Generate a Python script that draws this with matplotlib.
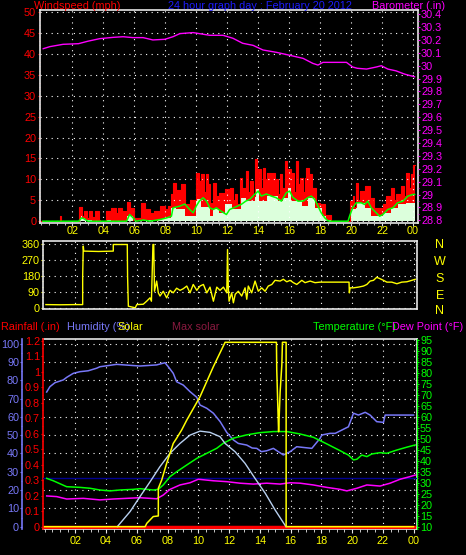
import numpy as np
import matplotlib.pyplot as plt
from matplotlib.ticker import MultipleLocator, FixedLocator

plt.rcParams['font.family'] = ['Liberation Sans', 'DejaVu Sans']
plt.rcParams['font.size'] = 7.8

# ---------------- data ----------------
hour_ticks = [2, 4, 6, 8, 10, 12, 14, 16, 18, 20, 22, 24]
hour_labels = ['02', '04', '06', '08', '10', '12', '14', '16', '18', '20', '22', '00']

# barometer (inHg)
baro_h = [0.12, 0.55, 1.4, 2.4, 3.0, 3.77, 4.63, 5.28, 5.9, 6.57, 7.2, 7.97, 8.5, 8.94, 9.8,
          10.2, 10.87, 11.73, 12.37, 13.0, 13.67, 14.31, 15.17, 16.03, 16.9, 17.53, 17.86,
          18.18, 19.7, 20.1, 20.4, 21.0, 21.63, 21.95, 22.37, 22.9, 23.45, 24.1]
baro_v = [30.132, 30.148, 30.166, 30.171, 30.19, 30.21, 30.22, 30.225, 30.218, 30.218, 30.2,
          30.205, 30.225, 30.249, 30.257, 30.249, 30.236, 30.236, 30.213, 30.174, 30.158,
          30.122, 30.104, 30.081, 30.057, 30.018, 30.005, 30.026, 30.026, 29.99, 29.98,
          29.974, 29.99, 30.0, 29.974, 29.96, 29.935, 29.914]

# gust (mph), step values starting at each hour
gust_h = [0.0, 1.2, 1.3, 2.42, 2.6, 2.75, 2.95, 3.05, 3.3, 3.45, 3.7, 3.8, 4.16, 4.5, 4.8,
          4.95, 5.2, 5.5, 5.7, 6.0, 6.46, 6.68, 7.0, 7.3, 7.65, 8.0, 8.2, 8.4, 8.5, 8.7, 9.0,
          9.25, 9.6, 10.0, 10.2, 10.3, 10.5, 10.6, 10.75, 10.9, 11.1, 11.3, 11.5, 11.85,
          12.2, 12.35, 12.5, 12.65, 12.8, 12.95, 13.05, 13.2, 13.35, 13.45, 13.65, 13.77,
          13.9, 14.0, 14.15, 14.3, 14.45, 14.6, 14.8, 14.9, 15.06, 15.25, 15.4, 15.55, 15.7,
          15.85, 15.92, 16.14, 16.3, 16.46, 16.6, 16.7, 16.9, 17.0, 17.1, 17.3, 17.5, 17.75,
          17.97, 18.3, 18.72, 19.9, 20.1, 20.2, 20.33, 20.45, 20.55, 20.87, 21.0, 21.1, 21.2,
          21.5, 22.05, 22.27, 22.6, 22.75, 22.9, 23.24, 23.4, 23.56, 23.75, 23.88, 24.0, 24.1]
gust_v = [0, 1.3, 0, 3.5, 1.2, 2.4, 0.8, 2.4, 1.0, 2.4, 0.4, 0, 2.4, 3.2, 2.0,
          3.2, 2.4, 4.5, 3.2, 0.8, 4.4, 2.8, 2.0, 2.4, 3.6, 2.8, 3.6, 6.5, 9.2, 7.5, 9.0,
          4.0, 5.0, 11.6, 9.5, 11.4, 7.0, 11.4, 9.0, 4.4, 9.2, 6.0, 6.8, 7.6,
          8.0, 5.0, 6.4, 4.0, 10.4, 6.0, 8.0, 12.0, 7.0, 9.6, 6.0, 14.8,
          9.0, 12.4, 8.0, 12.8, 10.0, 11.6, 7.5, 11.6, 10.0, 6.5, 11.2, 8.0, 14.4,
          9.0, 12.4, 11.6, 7.0, 14.4, 9.0, 10.4, 7.0, 10.4, 12.8, 11.2, 8.0, 4.4,
          4.0, 1.6, 0, 4.8, 6.0, 3.5, 9.2, 5.0, 7.2, 8.4, 5.5, 8.4, 5.6,
          3.2, 4.0, 6.0, 8.0, 5.0, 6.4, 8.4, 6.0, 11.6, 8.0, 11.2, 13.5, 13.5]

# wind speed (mph), step values
wind_h = [0.0, 2.42, 2.55, 2.65, 2.8, 3.3, 4.2, 4.5, 5.5, 5.9, 6.6, 7.2, 7.5, 8.0, 8.4, 8.7,
          9.25, 10.0, 10.3, 10.9, 11.1, 11.5, 11.84, 12.3, 12.9, 13.2, 13.8, 14.05, 14.6,
          15.3, 15.6, 15.9, 16.1, 16.8, 17.2, 17.65, 18.1, 18.4, 18.7, 19.9, 20.33, 20.87,
          21.3, 22.05, 22.6, 23.0, 23.56, 24.1]
wind_v = [0, 0.8, 1.3, 0.8, 0.3, 0, 0.4, 0, 1.2, 0, 0.3, 0, 0.5, 0.8, 3.2, 2.8,
          1.2, 5.2, 3.5, 1.2, 2.8, 2.0, 4.0, 2.8, 5.6, 4.8, 7.6, 4.8, 6.0,
          4.8, 5.6, 8.0, 4.8, 3.6, 5.6, 3.2, 1.2, 0.3, 0, 2.8, 4.4, 3.2,
          1.2, 2.0, 3.2, 4.0, 4.4, 4.4]

# average wind speed (mph)
avg_h = [0.1, 2.42, 2.6, 2.75, 3.0, 5.5, 5.7, 5.9, 6.1, 6.6, 7.0, 7.65, 8.1, 8.4, 8.5, 8.94,
         9.26, 9.58, 9.8, 10.0, 10.2, 10.44, 10.66, 10.87, 11.1, 11.3, 11.6, 11.95, 12.16,
         12.48, 12.9, 13.2, 13.45, 13.77, 14.0, 14.2, 14.53, 14.85, 15.17, 15.5, 15.82,
         16.03, 16.24, 16.57, 16.9, 17.2, 17.43, 17.65, 17.86, 18.07, 18.3, 18.5, 18.7,
         19.8, 19.9, 20.1, 20.33, 20.65, 20.87, 21.08, 21.3, 21.62, 21.84, 22.05, 22.37,
         22.7, 23.0, 23.35, 23.67, 24.0, 24.1]
avg_v = [0, 0, 0.8, 0.6, 0, 0, 1.6, 0.9, 0, 0.3, 0, 0.4, 0.8, 1.2, 3.2, 3.6,
         4.1, 2.8, 2.0, 3.6, 4.8, 5.6, 4.8, 3.2, 2.8, 3.2, 2.4, 1.6, 2.8,
         3.3, 4.0, 4.8, 5.2, 6.4, 7.2, 6.0, 6.5, 6.0, 5.6, 4.8, 6.8,
         7.2, 5.7, 4.8, 4.8, 5.6, 6.0, 5.2, 3.6, 2.0, 0.8, 0.1, 0,
         0, 1.2, 3.2, 4.4, 4.4, 4.0, 4.8, 3.2, 2.0, 1.2, 1.6, 2.8,
         3.2, 4.4, 4.8, 6.0, 6.4, 6.4]

# wind direction (degrees)
dir_h = [0.09, 1.0, 2.0, 2.48, 2.48, 2.52, 2.55, 3.5, 4.47, 4.47, 5.38, 5.40, 5.45, 5.6, 5.9,
         6.0, 6.42, 6.64, 6.86, 6.95, 7.0, 7.05, 7.1, 7.15, 7.29, 7.4, 7.51, 7.72, 7.94, 8.16,
         8.37, 8.59, 8.81, 9.02, 9.25, 9.46, 9.67, 9.9, 10.11, 10.33, 10.55, 10.76, 10.98,
         11.2, 11.41, 11.63, 11.85, 11.9, 11.95, 12.0, 12.17, 12.28, 12.4, 12.6, 12.82,
         13.04, 13.15, 13.25, 13.47, 13.69, 13.9, 14.12, 14.34, 14.55, 14.78, 14.99, 15.32,
         15.53, 15.75, 15.97, 16.18, 16.4, 16.73, 16.94, 17.27, 17.59, 17.92, 19.8, 19.82,
         19.87, 20.09, 20.41, 20.74, 20.96, 21.17, 21.39, 21.6, 21.82, 22.04, 22.26, 22.58,
         22.91, 23.23, 23.56, 23.88, 24.1]
dir_v = [20, 19, 20, 20, 180, 348, 320, 318, 320, 357, 357, 180, 11, 8, 2,
         20, 22, 39, 58, 39, 198, 357, 357, 95, 152, 86, 68, 95, 58, 100,
         86, 112, 100, 109, 124, 86, 133, 100, 124, 133, 86, 118, 39,
         118, 100, 118, 86, 329, 114, 39, 86, 30, 78, 95, 68,
         114, 50, 124, 86, 152, 95, 114, 95, 124, 133, 156, 152,
         162, 148, 156, 143, 133, 156, 143, 152, 143, 146, 146, 86,
         114, 114, 118, 124, 133, 152, 156, 173, 165, 156, 146, 146,
         137, 146, 148, 156, 162]

# humidity (%)
hum_h = [0.14, 0.35, 0.68, 1.22, 1.44, 1.87, 2.3, 2.84, 3.39, 3.6, 4.69, 6.2, 7.29, 7.83,
         8.05, 8.37, 8.59, 9.02, 9.46, 9.9, 10.11, 10.55, 10.98, 11.42, 11.85, 12.28, 12.6,
         13.15, 13.5, 13.8, 14.1, 14.45, 14.88, 15.2, 15.53, 15.97, 16.4, 17.38, 17.92, 18.03,
         18.57, 18.9, 19.33, 19.76, 20.09, 20.41, 20.85, 21.17, 21.6, 22.04, 22.15, 24.0]
hum_v = [73.6, 76.5, 78.7, 80.2, 81.6, 83.8, 84.7, 85.2, 86.6, 87.4, 88.7, 87.8, 88.4, 89.6,
         87.4, 83.8, 79.2, 77.4, 73.8, 70.7, 66.5, 64.7, 62.0, 57.4, 51.5, 47.4, 45.5,
         44.6, 43.0, 42.8, 41.0, 41.5, 42.8, 41.0, 39.2, 41.0, 43.7, 42.8, 48.3, 50.1,
         51.0, 51.0, 52.8, 54.6, 62.0, 61.0, 62.5, 61.0, 57.4, 57.0, 61.0, 61.0]

# temperature (F)
temp_h = [0.14, 0.57, 1.44, 2.3, 2.95, 3.6, 4.26, 4.9, 5.77, 6.2, 7.07, 7.4, 7.72, 8.16, 8.59,
          9.25, 9.9, 10.55, 11.2, 11.63, 12.28, 13.15, 14.0, 14.88, 15.75, 16.62, 17.48, 18.35,
          19.22, 19.76, 20.09, 20.31, 20.63, 20.96, 21.28, 21.82, 22.26, 22.91, 23.56, 24.1]
temp_v = [32.0, 30.9, 28.2, 27.9, 27.5, 26.7, 26.3, 26.7, 27.0, 27.3, 26.7, 27.0, 29.0, 32.8,
          35.0, 38.1, 41.1, 43.4, 45.7, 48.0, 50.3, 51.8, 52.8, 53.3, 53.3, 52.2, 50.7, 47.7,
          44.6, 42.6, 40.4, 40.7, 42.6, 41.9, 43.1, 43.7, 43.4, 44.9, 46.2, 47.2]

# dew point (F)
dew_h = [0.14, 0.79, 1.44, 2.52, 3.6, 4.47, 5.34, 6.2, 7.29, 7.72, 8.16, 8.81, 9.46, 10.0,
         10.98, 11.85, 12.71, 13.58, 14.45, 15.32, 15.97, 16.62, 17.48, 18.35, 19.22, 19.66,
         20.31, 20.96, 21.82, 22.47, 23.12, 23.77, 24.1]
dew_v = [24.0, 23.7, 22.6, 22.9, 22.2, 22.6, 22.9, 23.2, 22.7, 24.4, 27.0, 29.0, 30.0, 31.6,
         30.9, 30.5, 29.8, 29.4, 29.8, 29.4, 30.0, 29.8, 29.0, 27.9, 27.0, 26.3,
         27.5, 29.0, 28.5, 29.8, 31.6, 32.8, 33.5]

# solar radiation (W/m2, top of scale = 600)
solar_h = [0.0, 6.54, 6.65, 6.86, 7.07, 7.4, 7.4, 7.62, 7.94, 8.37, 8.59, 8.92, 9.25, 10.11,
           10.98, 11.74, 15.08, 15.1, 15.2, 15.22, 15.32, 15.43, 15.47, 15.71, 15.71, 24.0]
solar_v = [0, 0, 11, 22, 33, 35, 125, 152, 206, 271, 288, 315, 347, 423,
           521, 600, 600, 510, 342, 309, 439, 526, 600, 600, 0, 0]

# max solar (W/m2)
maxsol_h = [4.73, 5.56, 6.21, 6.86, 7.5, 8.16, 8.81, 9.46, 10.11, 10.76, 11.41, 11.74, 12.39,
            13.04, 13.69, 14.35, 15.0, 15.7]
maxsol_v = [0, 49, 98, 146, 195, 239, 271, 298, 311, 307, 293, 271, 244,
            206, 157, 109, 54, 0]

# rainfall (in)
rain_h = [0.0, 24.0]
rain_v = [0.0, 0.0]

freezing = 32

# ---------------- figure ----------------
W, H = 466, 555
fig = plt.figure(figsize=(W / 100, H / 100), dpi=100, facecolor='black')

frame = '#e6e6e6'
dots = (0, (1, 4))
TL, TM, PAD = 1.6, 1.0, 0.8


def px_axes(x0, y0, x1, y1):
    return fig.add_axes([x0 / W, 1 - y1 / H, (x1 - x0) / W, (y1 - y0) / H])


def style_frame(ax):
    ax.set_facecolor('black')
    for s in ax.spines.values():
        s.set_color(frame)
        s.set_linewidth(1.2)


def style_y(ax, color):
    ax.tick_params(axis='y', which='both', colors=color, labelsize=7.8, direction='out')
    ax.tick_params(axis='y', which='major', length=TL, pad=PAD)
    ax.tick_params(axis='y', which='minor', length=TM)


def short(v, p):
    s = ('%.1f' % v).rstrip('0').rstrip('.')
    return '0' if s in ('-0', '') else s


# ---- top panel: wind speed + barometer ----
ax1 = px_axes(39.5, 10.3, 417.7, 223.3)
style_frame(ax1)
ax1.set_xlim(-0.12, 24.3)
ax1.set_ylim(-0.5, 50.4)
ax1.fill_between(gust_h, 0, gust_v, step='post', color='#ff0000', lw=0)
ax1.step(gust_h, gust_v, where='post', color='#ff0000', lw=0.8)
ax1.fill_between(wind_h, 0, wind_v, step='post', color='#dcffdc', lw=0)
ax1.plot(avg_h, avg_v, color='#00ff00', lw=1.1)
ax1.yaxis.set_major_locator(MultipleLocator(5))
ax1.yaxis.set_minor_locator(MultipleLocator(1))
ax1.xaxis.set_major_locator(FixedLocator(hour_ticks))
ax1.xaxis.set_minor_locator(MultipleLocator(0.5))
ax1.set_xticklabels(hour_labels)
ax1.grid(True, which='major', color='white', linestyle=dots, lw=0.8)
style_y(ax1, '#ff0000')
ax1.tick_params(axis='x', which='both', color=frame, labelcolor='#ffff00', length=2,
                labelsize=7.8, pad=0)
ax1.tick_params(axis='x', which='minor', length=1.5)

ax1b = ax1.twinx()
ax1b.set_ylim(28.777, 30.43)
ax1b.plot(baro_h, baro_v, color='#ff00ff', lw=1.0)
ax1b.yaxis.set_major_locator(MultipleLocator(0.1))
ax1b.yaxis.set_minor_locator(MultipleLocator(0.05))
ax1b.yaxis.set_major_formatter(plt.FuncFormatter(short))
style_y(ax1b, '#ff00ff')
for s in ax1b.spines.values():
    s.set_visible(False)

fig.text(34 / W, 1 - 6 / H, 'Windspeed (mph)', color='#ff0000', va='center', ha='left', fontsize=7.8)
fig.text(260 / W, 1 - 6 / H, '24 hour graph day : February 20 2012', color='#1c1cff',
         va='center', ha='center', fontsize=7.8)
fig.text(372 / W, 1 - 6 / H, 'Barometer (.in)', color='#ff00ff', va='center', ha='left', fontsize=7.8)

# ---- middle panel: wind direction ----
ax2 = px_axes(43.3, 241.3, 416.7, 308.7)
style_frame(ax2)
ax2.set_xlim(-0.08, 24.2)
ax2.set_ylim(-3, 375)
ax2.plot(dir_h, dir_v, color='#ffff00', lw=1.0)
ax2.yaxis.set_major_locator(FixedLocator([0, 90, 180, 270, 360]))
ax2.yaxis.set_minor_locator(MultipleLocator(30))
ax2.xaxis.set_major_locator(FixedLocator(hour_ticks))
ax2.xaxis.set_ticklabels([])
ax2.grid(True, which='major', color='white', linestyle=dots, lw=0.8)
style_y(ax2, '#ffff00')
ax2.tick_params(axis='x', length=0)
for lab, y in zip(['N', 'W', 'S', 'E', 'N'], [245, 261.7, 279.3, 295.7, 311]):
    fig.text(440 / W, 1 - y / H, lab, color='#ffff00', ha='center', va='center', fontsize=9)

# ---- bottom panel ----
ax3 = px_axes(43.3, 339.3, 416.7, 529)
style_frame(ax3)
ax3.set_xlim(-0.08, 24.2)
ax3.set_ylim(-1.26, 102.4)
ax3.xaxis.set_major_locator(FixedLocator(hour_ticks))
ax3.xaxis.set_minor_locator(MultipleLocator(0.5))
ax3.set_xticklabels(hour_labels)
ax3.yaxis.set_major_locator(MultipleLocator(10))
ax3.yaxis.set_minor_locator(MultipleLocator(5))
ax3.grid(True, which='major', color='white', linestyle=dots, lw=0.8)
ax3.spines['left'].set_position(('axes', -0.056))
ax3.spines['left'].set_color('#7878f8')
style_y(ax3, '#7878f8')
ax3.tick_params(axis='x', which='both', color=frame, labelcolor='#ffff00', length=3,
                labelsize=7.8, pad=2)
ax3.tick_params(axis='x', which='minor', length=2)
ax3.plot(hum_h, hum_v, color='#7878f8', lw=1.1)

# rainfall axis
ax3r = ax3.twinx()
ax3r.set_ylim(-0.015, 1.209)
ax3r.yaxis.tick_left()
ax3r.yaxis.set_major_locator(MultipleLocator(0.1))
ax3r.yaxis.set_minor_locator(MultipleLocator(0.05))
ax3r.yaxis.set_major_formatter(plt.FuncFormatter(short))
style_y(ax3r, '#ff0000')
for s in ax3r.spines.values():
    s.set_visible(False)
ax3r.spines['left'].set_visible(True)
ax3r.spines['left'].set_color('#ff0000')
ax3r.spines['left'].set_linewidth(1.2)

# temperature axis
ax3t = ax3.twinx()
ax3t.set_ylim(8.95, 95.3)
ax3t.yaxis.set_major_locator(MultipleLocator(5))
ax3t.yaxis.set_minor_locator(MultipleLocator(1))
style_y(ax3t, '#00ff00')
for s in ax3t.spines.values():
    s.set_visible(False)
ax3t.spines['right'].set_visible(True)
ax3t.spines['right'].set_color('#00ff00')
ax3t.axhline(freezing, color='#000090', lw=1.0)
ax3t.plot(temp_h, temp_v, color='#00ff00', lw=1.1)
ax3t.plot(dew_h, dew_v, color='#ff00ff', lw=1.1)

# solar (own hidden scale)
ax3s = ax3.twinx()
ax3s.set_ylim(-7.5, 609.8)
ax3s.axis('off')
ax3s.plot(maxsol_h, maxsol_v, color='#b8d0f0', lw=1.0)
ax3r.plot(rain_h, rain_v, color='#ff0000', lw=2.5, zorder=5)
ax3s.plot(solar_h, solar_v, color='#ffff00', lw=1.1)

hy = 1 - 327 / H
fig.text(1 / W, hy, 'Rainfall (.in)', color='#ff0000', va='center', ha='left', fontsize=7.8)
fig.text(67 / W, hy, 'Humidity (%)', color='#7878f8', va='center', ha='left', fontsize=7.8)
fig.text(117 / W, hy, 'Solar', color='#ffff00', va='center', ha='left', fontsize=7.8)
fig.text(172 / W, hy, 'Max solar', color='#8b1a40', va='center', ha='left', fontsize=7.8)
fig.text(313 / W, hy, 'Temperature (\u00b0F)', color='#00ff00', va='center', ha='left', fontsize=7.8)
fig.text(392 / W, hy, 'Dew Point (\u00b0F)', color='#ff00ff', va='center', ha='left', fontsize=7.8)

fig.savefig('out.png', dpi=100, facecolor='black')
